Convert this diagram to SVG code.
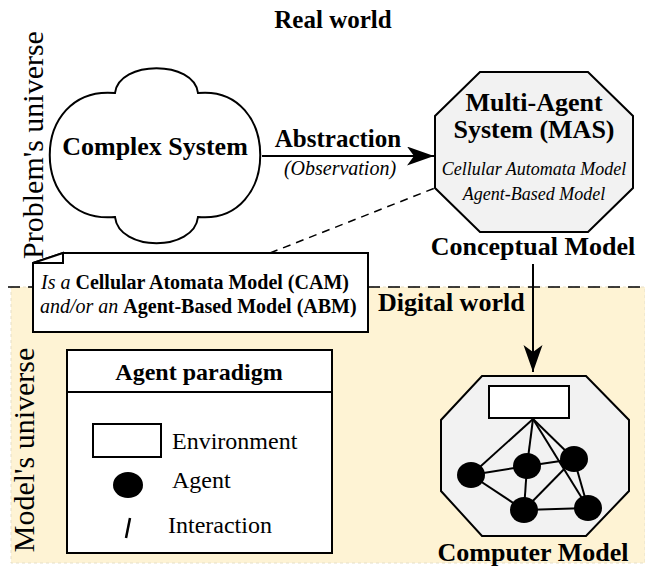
<svg xmlns="http://www.w3.org/2000/svg" width="645" height="570" viewBox="0 0 645 570">
<style>
text{font-family:"Liberation Serif","Times New Roman",serif;fill:#000}
.b{font-weight:bold}
.i{font-style:italic}
.c{text-anchor:middle}
.shape{stroke:#000;stroke-width:2;fill:#fff}
.oct{stroke:#000;stroke-width:2;fill:#f2f2f2}
.edge{stroke:#000;stroke-width:2;fill:none}
</style>
<defs>
<marker id="arr" markerUnits="userSpaceOnUse" markerWidth="28" markerHeight="20" refX="27" refY="9.5" orient="auto">
<path d="M0,0 L27,9.5 L0,19 L7,9.5 Z" fill="#000"/>
</marker>
</defs>
<g id="background">
<rect x="11" y="287" width="634" height="276" fill="#fef3d4" stroke="#e6dfc8" stroke-width="1" stroke-dasharray="3 3"/>
<line x1="8" y1="287" x2="645" y2="287" stroke="#000" stroke-width="1.5" stroke-dasharray="12 8"/>
</g>
<g id="labels">
<text class="b c" x="333" y="28" font-size="25">Real world</text>
<text x="0" y="0" font-size="30" transform="translate(43,145) rotate(-90)" text-anchor="middle">Problem's universe</text>
<text x="0" y="0" font-size="30" transform="translate(34,450) rotate(-90)" text-anchor="middle">Model's universe</text>
<text class="b" x="378" y="311" font-size="26">Digital world</text>
</g>
<g id="connectors">
<line x1="262" y1="156" x2="434" y2="156" stroke="#000" stroke-width="2" marker-end="url(#arr)"/>
<text class="b c" x="338" y="147" font-size="25">Abstraction</text>
<text class="i c" x="340" y="175" font-size="20">(Observation)</text>
<line x1="533" y1="264" x2="533" y2="372" stroke="#000" stroke-width="2" marker-end="url(#arr)"/>
<line x1="270" y1="253" x2="435" y2="188" stroke="#000" stroke-width="1.5" stroke-dasharray="8 6"/>
</g>
<g id="complex-system">
<path class="shape" d="M115,93 C119,60 194,60 198,93 C281,85 281,225 198,217 C194,252 119,252 115,217 C28,225 28,85 115,93 Z"/>
<text class="b c" x="155" y="155" font-size="26">Complex System</text>
</g>
<g id="conceptual-model">
<polygon class="oct" points="480,72 588,72 633,116 633,188 588,232 480,232 435,188 435,116"/>
<text class="b c" x="534" y="111" font-size="26">Multi-Agent</text>
<text class="b c" x="534" y="138" font-size="26">System (MAS)</text>
<text class="i c" x="534" y="175" font-size="18">Cellular Automata Model</text>
<text class="i c" x="534" y="200" font-size="18">Agent-Based Model</text>
<text class="b c" x="533" y="255" font-size="26">Conceptual Model</text>
</g>
<g id="note">
<path class="shape" d="M63,253 L368,253 L368,332 L33,332 L33,263 Z"/>
<path class="shape" d="M33,263 L63,253 L63,263 Z"/>
<text x="41" y="289" font-size="20"><tspan class="i">Is a </tspan><tspan class="b">Cellular Atomata Model (CAM)</tspan></text>
<text x="40" y="313" font-size="20"><tspan class="i">and/or an </tspan><tspan class="b">Agent-Based Model (ABM)</tspan></text>
</g>
<g id="legend">
<rect class="shape" x="67" y="350" width="265" height="203"/>
<line x1="67" y1="392" x2="332" y2="392" stroke="#000" stroke-width="2"/>
<text class="b c" x="199" y="380" font-size="24">Agent paradigm</text>
<rect class="shape" x="93" y="424" width="68" height="33"/>
<text x="172" y="449" font-size="24">Environment</text>
<ellipse cx="128" cy="485" rx="15" ry="13" fill="#000"/>
<text x="172" y="488" font-size="24">Agent</text>
<line x1="130" y1="518" x2="126" y2="538" stroke="#000" stroke-width="2.5"/>
<text x="168" y="533" font-size="24">Interaction</text>
</g>
<g id="computer-model">
<polygon class="oct" points="482,376 586,376 629,420 629,491 586,536 482,536 441,491 441,420"/>
<rect class="shape" x="489" y="386" width="80" height="32"/>
<g class="edge">
<line x1="533" y1="419" x2="471" y2="475"/>
<line x1="533" y1="419" x2="527" y2="466"/>
<line x1="533" y1="419" x2="574" y2="459"/>
<line x1="533" y1="419" x2="588" y2="508"/>
<line x1="471" y1="475" x2="527" y2="466"/>
<line x1="471" y1="475" x2="524" y2="510"/>
<line x1="527" y1="466" x2="524" y2="510"/>
<line x1="527" y1="466" x2="574" y2="459"/>
<line x1="524" y1="510" x2="574" y2="459"/>
<line x1="524" y1="510" x2="588" y2="508"/>
<line x1="574" y1="459" x2="588" y2="508"/>
</g>
<ellipse cx="471" cy="475" rx="14" ry="13" fill="#000"/>
<ellipse cx="527" cy="466" rx="14" ry="13" fill="#000"/>
<ellipse cx="574" cy="459" rx="14" ry="13" fill="#000"/>
<ellipse cx="524" cy="510" rx="14" ry="13" fill="#000"/>
<ellipse cx="588" cy="508" rx="14" ry="13" fill="#000"/>
<text class="b c" x="533" y="561" font-size="26">Computer Model</text>
</g>
</svg>
